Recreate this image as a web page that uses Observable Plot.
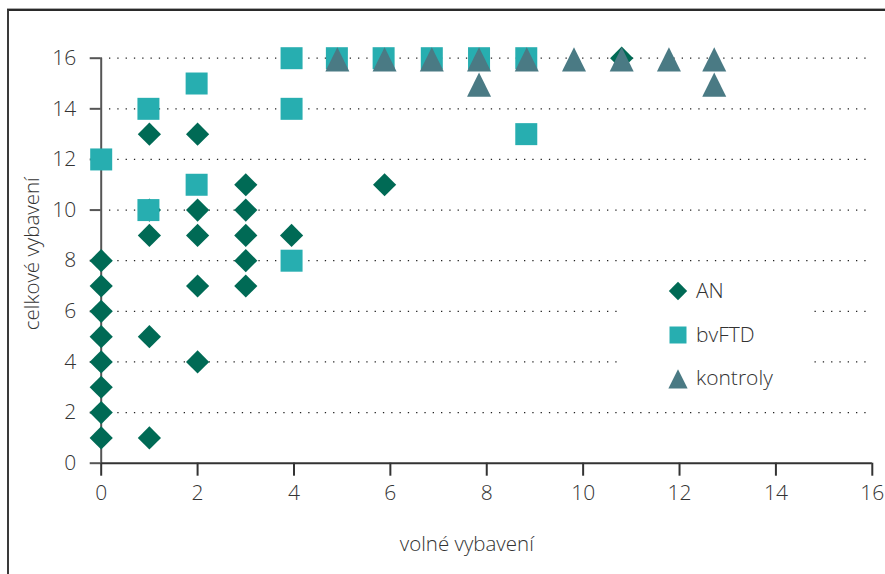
<!DOCTYPE html>
<html>
<head>
<meta charset="utf-8">
<script src="https://cdn.jsdelivr.net/npm/d3@7"></script>
<script src="https://cdn.jsdelivr.net/npm/@observablehq/plot@0.6"></script>
<style>
  html, body { margin: 0; padding: 0; background: #fff; }
  #wrap { position: relative; width: 885px; height: 574px; overflow: hidden; font-family: "Open Sans", sans-serif; color: #333; }
  #frame { position: absolute; left: 7px; top: 9px; width: 900px; height: 600px; border-left: 2px solid #3a3a3a; border-top: 2px solid #2a2a2a; box-shadow: 0 -1px 0 #aaa; }
  #chart { position: absolute; left: 0; top: 0; }
  #legend { position: absolute; left: 623px; top: 268px; width: 189px; height: 132px; background: #fff; }
  .item { position: absolute; left: 0; height: 24px; }
  .item svg { position: absolute; left: 43px; top: 0; }
  .item span { position: absolute; left: 73px; top: -3px; font-size: 21px; font-weight: 350; line-height: 28px; color: #333; white-space: nowrap; }
</style>
</head>
<body>
<div id="wrap">
  <div id="frame"></div>
  <div id="chart"></div>
  <div id="legend"></div>
</div>
<script>
// ---- data ----
const seriesNames = ["AN", "bvFTD", "kontroly"];
const seriesColors = ["#006a55", "#27aeb0", "#4a7a84"];

const anX = [0, 0, 0, 0, 0, 0, 0, 0, 1, 1, 1, 1, 1, 2, 2, 2, 2, 2, 3, 3, 3, 3, 3, 3.95, 5.88, 10.8];
const anY = [1, 2, 3, 4, 5, 6, 7, 8, 1, 5, 9, 10, 13, 4, 7, 9, 10, 13, 7, 8, 9, 10, 11, 9, 11, 16];

const bvX = [0, 0.98, 0.98, 1.98, 1.98, 3.95, 3.95, 3.95, 4.89, 5.86, 6.86, 7.84, 8.82, 8.82];
const bvY = [12, 14, 10, 15, 11, 16, 14, 8, 16, 16, 16, 16, 16, 13];

const koX = [4.9, 5.88, 6.86, 7.84, 7.84, 8.83, 9.81, 10.8, 11.78, 12.72, 12.72];
const koY = [16, 16, 16, 16, 15, 16, 16, 16, 16, 16, 15];

const xTicks = [0, 2, 4, 6, 8, 10, 12, 14, 16];
const yTicks = [0, 2, 4, 6, 8, 10, 12, 14, 16];
const xLabel = "volné vybavení";
const yLabel = "celkové vybavení";

// ---- tables ----
const toRows = (xs, ys) => xs.map((x, i) => ({x, y: ys[i]}));
const an = toRows(anX, anY);
const bv = toRows(bvX, bvY);
const ko = toRows(koX, koY);

// ---- custom symbols ----
const symDiamond = {draw(ctx, size) { const r = Math.sqrt(size / Math.PI); ctx.moveTo(0, -r); ctx.lineTo(r, 0); ctx.lineTo(0, r); ctx.lineTo(-r, 0); ctx.closePath(); }};
const symSquare = {draw(ctx, size) { const r = Math.sqrt(size / Math.PI); ctx.rect(-r, -r, 2 * r, 2 * r); }};
const symTriangle = {draw(ctx, size) { const r = Math.sqrt(size / Math.PI); ctx.moveTo(0, -0.92 * r); ctx.lineTo(r, 1.1 * r); ctx.lineTo(-r, 1.1 * r); ctx.closePath(); }};

const font = "Open Sans, sans-serif";

const chart = Plot.plot({
  width: 885,
  height: 574,
  marginLeft: 100.7,
  marginRight: 13.2,
  marginTop: 57.7,
  marginBottom: 111.3,
  style: {fontFamily: font, fontSize: "21px", fontWeight: 350, color: "#333", background: "transparent", overflow: "visible"},
  x: {domain: [0, 16]},
  y: {domain: [0, 16]},
  marks: [
    Plot.gridY(yTicks.filter(d => d > 0), {stroke: "#222", strokeOpacity: 1, strokeWidth: 1.3, strokeDasharray: "1.3,7"}),
    Plot.ruleX([0], {y1: 0, y2: 16, stroke: "#555", strokeWidth: 2}),
    Plot.ruleY([0], {x1: 0, x2: 16, stroke: "#333", strokeWidth: 2}),
    Plot.axisY({ticks: yTicks, tickSize: 11, tickPadding: 14, fontSize: 21, label: null, stroke: "#555", strokeWidth: 2, fill: "#333"}),
    Plot.axisX({ticks: xTicks, tickSize: 13, tickPadding: 9, fontSize: 21, label: null, stroke: "#333", strokeWidth: 2, fill: "#333"}),
    Plot.dot(an, {x: "x", y: "y", symbol: symDiamond, r: 11.6, fill: seriesColors[0], stroke: "none"}),
    Plot.dot(bv, {x: "x", y: "y", symbol: symSquare, r: 11, fill: seriesColors[1], stroke: "none"}),
    Plot.dot(ko, {x: "x", y: "y", symbol: symTriangle, r: 12, fill: seriesColors[2], stroke: "none"}),
    Plot.text([xLabel], {frameAnchor: "bottom", textAnchor: "middle", dx: -20, dy: 88, fontSize: 20.5, fill: "#333"}),
    Plot.text([yLabel], {frameAnchor: "left", textAnchor: "middle", lineAnchor: "middle", rotate: -90, dx: -69, dy: -7, fontSize: 20.5, fill: "#333"})
  ]
});
document.getElementById("chart").appendChild(chart);

// ---- legend ----
const legend = document.getElementById("legend");
const legendSyms = [symDiamond, symSquare, symTriangle];
const legendR = [9.2, 8.5, 9.6];
const legendTop = [11, 55, 98];
seriesNames.forEach((name, i) => {
  const item = document.createElement("div");
  item.className = "item";
  item.style.top = legendTop[i] + "px";
  const svg = d3.create("svg").attr("width", 24).attr("height", 24);
  svg.append("path")
    .attr("transform", "translate(12,12)")
    .attr("fill", seriesColors[i])
    .attr("d", d3.symbol(legendSyms[i], Math.PI * legendR[i] * legendR[i])());
  item.appendChild(svg.node());
  const span = document.createElement("span");
  span.textContent = name;
  item.appendChild(span);
  legend.appendChild(item);
});
</script>
</body>
</html>
